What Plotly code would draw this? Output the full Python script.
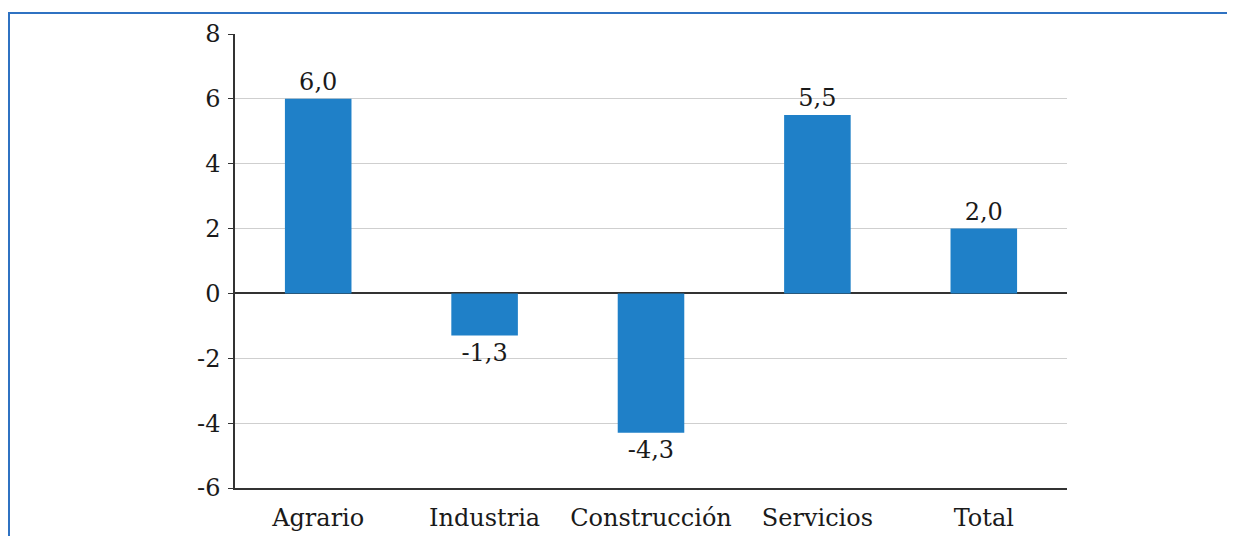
import plotly.graph_objects as go

categories = ["Agrario", "Industria", "Construcción", "Servicios", "Total"]
values = [6.0, -1.3, -4.3, 5.5, 2.0]
y_ticks = [-6, -4, -2, 0, 2, 4, 6, 8]
y_tick_labels = ["-6", "-4", "-2", "0", "2", "4", "6", "8"]

FONT = "DejaVu Serif"
FS = 24
fig = go.Figure()
fig.add_trace(go.Bar(
    x=categories, y=values,
    marker=dict(color="#1f80c8", line=dict(width=0)),
    text=[f"{v:.1f}".replace(".", ",") for v in values],
    textposition="outside",
    textfont=dict(family=FONT, size=FS, color="#1a1a1a"),
    cliponaxis=False,
    width=0.4,
))

# page has 8px body margin; figure sits at (8,8)
OFF = 8
W, H = 1235 - OFF, 536 - OFF
L, R, T, B = 235 - OFF, 1235 - 1067, 34 - OFF, 536 - 488
pw, ph = W - L - R, H - T - B

def px_to_paper_x(px):
    return (px - OFF - L) / pw

def px_to_paper_y(py):
    return (H - B - (py - OFF)) / ph

fig.add_shape(type="rect", xref="paper", yref="paper",
              x0=px_to_paper_x(9), x1=px_to_paper_x(1228),
              y0=px_to_paper_y(580), y1=px_to_paper_y(13),
              line=dict(color="#2f72c2", width=2), fillcolor="rgba(0,0,0,0)",
              layer="below")

fig.update_layout(
    width=W, height=H,
    margin=dict(l=L, r=R, t=T, b=B, pad=0, autoexpand=False),
    paper_bgcolor="white", plot_bgcolor="white",
    showlegend=False,
    font=dict(family=FONT, size=FS, color="#1a1a1a"),
    separators=",.",
    xaxis=dict(showline=True, linecolor="#333333", linewidth=1.5,
               ticks="", showgrid=False, tickfont=dict(size=FS),
               ticklabelstandoff=7, automargin=False),
    yaxis=dict(range=[-6, 8], tickvals=y_ticks, ticktext=y_tick_labels,
               showline=True, automargin=False,
               linecolor="#333333", linewidth=1.5, ticks="outside",
               ticklen=5, tickcolor="#333333", showgrid=True,
               gridcolor="#cfcfcf", gridwidth=1, zeroline=True,
               zerolinecolor="#333333", zerolinewidth=1.5,
               tickfont=dict(size=FS), ticklabelstandoff=3),
)

fig.write_html("out.html")
